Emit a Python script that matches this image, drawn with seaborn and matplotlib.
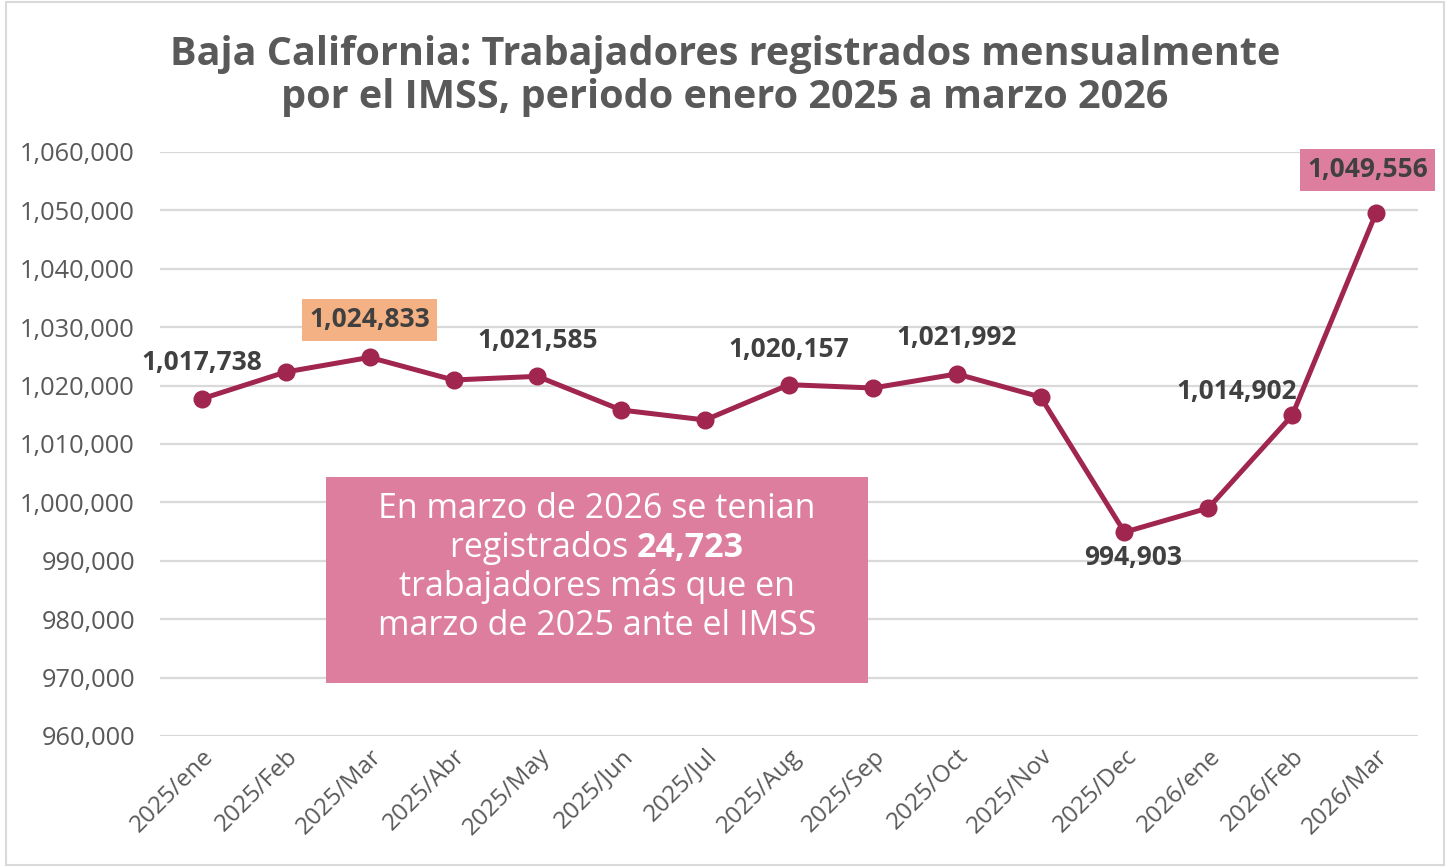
import matplotlib
matplotlib.use("Agg")
import matplotlib.pyplot as plt
import seaborn as sns
import pandas as pd
from matplotlib.patches import Rectangle
from matplotlib.ticker import FuncFormatter

# ---- data ----
months = ["2025/ene", "2025/Feb", "2025/Mar", "2025/Abr", "2025/May", "2025/Jun",
          "2025/Jul", "2025/Aug", "2025/Sep", "2025/Oct", "2025/Nov", "2025/Dec",
          "2026/ene", "2026/Feb", "2026/Mar"]
workers = [1017738, 1022330, 1024833, 1020960, 1021585, 1015820, 1014110, 1020157,
           1019590, 1021992, 1018050, 994903, 999040, 1014902, 1049556]
labeled = ["2025/ene", "2025/Mar", "2025/May", "2025/Aug", "2025/Oct", "2025/Dec",
           "2026/Feb", "2026/Mar"]
y_ticks = [960000, 970000, 980000, 990000, 1000000, 1010000, 1020000, 1030000,
           1040000, 1050000, 1060000]
title = "Baja California: Trabajadores registrados mensualmente\npor el IMSS, periodo enero 2025 a marzo 2026"
note_lines = ["En marzo de 2026 se tenian", ("registrados ", "24,723"),
              "trabajadores más que en", "marzo de 2025 ante el IMSS"]

df = pd.DataFrame({"mes": months, "trabajadores": workers})

sns.set_theme(style="white")
FONT = ["Open Sans", "DejaVu Sans"]
plt.rcParams["font.family"] = FONT

LINE = "#A0254F"
GRAY = "#595959"
DARK = "#404040"

fig = plt.figure(figsize=(14.5, 8.67), dpi=100)
ax = fig.add_axes([160 / 1450, 1 - 736 / 867, 1258 / 1450, 584 / 867])

sns.lineplot(data=df, x="mes", y="trabajadores", ax=ax, color=LINE, linewidth=3.6,
             marker="o", markersize=13, markeredgewidth=0, sort=False, zorder=3)

ax.set_xlim(-0.5, len(months) - 0.5)
ax.set_ylim(y_ticks[0], y_ticks[-1])
ax.set_yticks(y_ticks)
ax.yaxis.set_major_formatter(FuncFormatter(lambda v, p: f"{int(v):,}"))
ax.grid(axis="y", color="#D9D9D9", linewidth=1.6)
ax.grid(axis="x", visible=False)
for s in ax.spines.values():
    s.set_visible(False)
ax.set_xlabel("")
ax.set_ylabel("")
ax.tick_params(axis="y", colors=GRAY, labelsize=18.3, length=0, pad=18)
ax.tick_params(axis="x", colors=GRAY, labelsize=17.5, length=0, pad=6)
plt.setp(ax.get_xticklabels(), rotation=45, ha="right", rotation_mode="anchor")

# ---- data labels ----
offsets = {
    "2025/ene": (0, 26, None),
    "2025/Mar": (0, 27, "#F4B183"),
    "2025/May": (0, 26, None),
    "2025/Aug": (0, 25, None),
    "2025/Oct": (0, 26, None),
    "2025/Dec": (6, -18, None),
    "2026/Feb": (-40, 17, None),
    "2026/Mar": (-6, 31, "#DE7E9F"),
}
for m in labeled:
    i = months.index(m)
    v = workers[i]
    dx, dy, bg = offsets[m]
    bbox = dict(boxstyle="square,pad=0.28", fc=bg, ec="none") if bg else None
    ax.annotate(f"{v:,}", (i, v), xytext=(dx, dy), textcoords="offset points",
                ha="center", va="center", fontsize=19, fontweight="bold",
                color=DARK, bbox=bbox, zorder=5)

# ---- note box ----
bx0, by0 = (326 - 160) / 1258, (736 - 683) / 584
bw, bh = 542 / 1258, 206 / 584
ax.add_patch(Rectangle((bx0, by0), bw, bh, transform=ax.transAxes,
                       fc="#DE7E9F", ec="none", zorder=4))
cx = bx0 + bw / 2
line_y = [(736 - 509) / 584, (736 - 548) / 584, (736 - 587) / 584, (736 - 626) / 584]
NOTE_FS = 24.5
fig.canvas.draw()
renderer = fig.canvas.get_renderer()
for ln, yy in zip(note_lines, line_y):
    if isinstance(ln, tuple):
        t1 = ax.text(0, yy, ln[0], transform=ax.transAxes, fontsize=NOTE_FS, color="white",
                     ha="left", va="center", zorder=6)
        t2 = ax.text(0, yy, ln[1], transform=ax.transAxes, fontsize=NOTE_FS, color="white",
                     fontweight="bold", ha="left", va="center", zorder=6)
        w1 = t1.get_window_extent(renderer).width
        w2 = t2.get_window_extent(renderer).width
        axw = ax.get_window_extent(renderer).width
        start = cx - (w1 + w2) / 2 / axw
        t1.set_x(start)
        t2.set_x(start + w1 / axw)
    else:
        ax.text(cx, yy, ln, transform=ax.transAxes, fontsize=NOTE_FS, color="white",
                ha="center", va="center", zorder=6)

# ---- title ----
fig.text(0.5, 1 - 76 / 867, title, ha="center", va="center", fontsize=28.5,
         fontweight="bold", color=GRAY, linespacing=1.15)

# ---- figure border ----
fig.patches.append(Rectangle((6 / 1450, 2 / 867), 1438 / 1450, 863 / 867,
                             transform=fig.transFigure, fill=False, ec="#D9D9D9", lw=1.5))

fig.savefig("out.png", dpi=100, facecolor="white")
